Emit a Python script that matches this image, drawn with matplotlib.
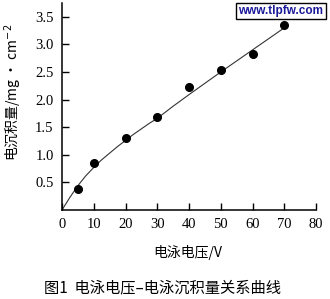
import matplotlib
matplotlib.use("Agg")
import matplotlib.pyplot as plt

plt.rcParams['font.family'] = ['Noto Sans CJK SC', 'DejaVu Sans']

# measured points
voltage = [5, 10, 20, 30, 40, 50, 60, 70]
deposit = [0.38, 0.86, 1.31, 1.69, 2.22, 2.53, 2.83, 3.36]

# fitted curve as drawn in the figure
curve_v = [0, 2.5, 5, 7.5, 10, 12.5, 15, 17.5, 20, 22.5, 25, 27.5, 30, 35, 40, 50, 60, 70]
curve_d = [0, 0.23, 0.44, 0.62, 0.77, 0.91, 1.03, 1.15, 1.26, 1.37, 1.47, 1.57, 1.66, 1.88, 2.09, 2.50, 2.90, 3.30]

xticks = [0, 10, 20, 30, 40, 50, 60, 70, 80]
yticks = [0.5, 1.0, 1.5, 2.0, 2.5, 3.0, 3.5]

fig = plt.figure(figsize=(3.3, 2.99), dpi=100)
ax = fig.add_axes([62 / 330, 1 - 210 / 299, 254 / 330, 207 / 299])

ax.plot(curve_v, curve_d, color='#333333', lw=0.8)
ax.plot(voltage, deposit, 'o', color='black', ms=5.5)

ax.set_xlim(0, 80)
ax.set_ylim(0, 3.75)
ax.set_xticks(xticks)
ax.set_yticks(yticks)
ax.set_yticklabels([f'{v:.1f}' for v in yticks])
ax.tick_params(direction='in', length=5, width=1, labelsize=10.5, pad=6)
for lab in ax.get_xticklabels() + ax.get_yticklabels():
    lab.set_fontfamily('Liberation Serif')
for s in ['top', 'right']:
    ax.spines[s].set_visible(False)
for s in ['left', 'bottom']:
    ax.spines[s].set_linewidth(1.1)

fig.text(188 / 330, 1 - 252 / 299, '电泳电压/V', ha='center', va='center', fontsize=10)
fig.text(13 / 330, 1 - 92 / 299, '电沉积量/mg · cm$^{-2}$', ha='center', va='center',
         rotation=90, fontsize=10)
fig.text(162 / 330, 1 - 288 / 299, '图1  电泳电压–电泳沉积量关系曲线', ha='center', va='center',
         fontsize=11)

fig.text(281 / 330, 1 - 11 / 299, 'www.tlpfw.com', ha='center', va='center', fontsize=8.5,
         color='#1a1a9a', fontweight='bold', family=['Liberation Sans'],
         bbox=dict(boxstyle='square,pad=0.2', fc='white', ec='black', lw=1))

fig.savefig('out.png', dpi=100)
